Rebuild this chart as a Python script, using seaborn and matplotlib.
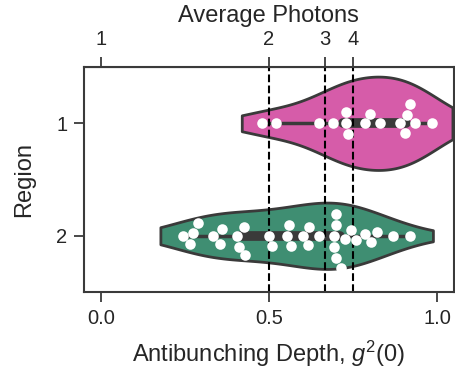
import numpy as np
import pandas as pd
import matplotlib
matplotlib.use("Agg")
import matplotlib.pyplot as plt
import seaborn as sns

# ─── Data ──────────────────────────────────────────────────────────────
regions = ["1", "2"]
region1_g2 = [0.48, 0.52, 0.65, 0.69, 0.73, 0.73, 0.735, 0.785, 0.80, 0.83,
              0.89, 0.905, 0.91, 0.92, 0.935, 0.985]
region2_g2 = [0.245, 0.265, 0.275, 0.29, 0.335, 0.355, 0.36, 0.405, 0.41,
              0.425, 0.43, 0.50, 0.51, 0.555, 0.56, 0.565, 0.60, 0.615, 0.62,
              0.65, 0.695, 0.695, 0.70, 0.70, 0.70, 0.715, 0.725, 0.745, 0.76,
              0.785, 0.805, 0.82, 0.87, 0.92]
photon_numbers = [1, 2, 3, 4]
region_colors = ["#d65ca9", "#3f8e72"]
violin_widths = [0.83, 0.59]

df = pd.DataFrame({
    "g2": region1_g2 + region2_g2,
    "region": [regions[0]] * len(region1_g2) + [regions[1]] * len(region2_g2),
})

sns.set_style("ticks")
plt.rcParams["font.family"] = ["Liberation Sans", "DejaVu Sans"]
plt.rcParams["mathtext.fontset"] = "custom"
plt.rcParams["mathtext.rm"] = "Liberation Sans"
plt.rcParams["mathtext.it"] = "Liberation Sans:italic"

edge = "#3a3a3a"

fig = plt.figure(figsize=(4.56, 3.70), dpi=100)
ax = fig.add_axes([0.184, 0.2108, 0.8114, 0.608])

# one violin per region so each gets its own width
for reg, col, w in zip(regions, region_colors, violin_widths):
    sns.violinplot(
        data=df[df["region"] == reg], x="g2", y="region", order=regions,
        color=col, inner="box", cut=0.6, bw_adjust=1.2,
        density_norm="width", width=w, linewidth=2, linecolor=edge,
        inner_kws=dict(box_width=7, whis_width=2.5, color=edge),
        saturation=1, ax=ax,
    )

# dashed lines at g2(0) = 1 - 1/n
for n in photon_numbers[1:]:
    ax.axvline(1 - 1 / n, color="black", linestyle="--", linewidth=1.5, zorder=2.5)

sns.swarmplot(
    data=df, x="g2", y="region", order=regions, color="white",
    size=7.6, linewidth=0, zorder=3, ax=ax,
)

ax.set_xlim(-0.05, 1.05)
ax.set_ylim(1.5, -0.5)
ax.set_xticks([0.0, 0.5, 1.0])
ax.set_xticklabels(["0.0", "0.5", "1.0"])
ax.set_xlabel("Antibunching Depth, $g^2(0)$", fontsize=17, labelpad=8)
ax.set_ylabel("Region", fontsize=17, labelpad=15)
ax.tick_params(labelsize=14.5, length=7, width=1.3, pad=5, color=edge)
for s in ax.spines.values():
    s.set_visible(True)
    s.set_linewidth(1.5)
    s.set_color(edge)

top = ax.secondary_xaxis("top")
top.set_xticks([1 - 1 / n for n in photon_numbers])
top.set_xticklabels([str(n) for n in photon_numbers])
top.tick_params(labelsize=14.5, length=7, width=1.3, pad=6, color=edge)
top.set_xlabel("Average Photons", fontsize=17, labelpad=6)

fig.savefig("out.png", dpi=100)
